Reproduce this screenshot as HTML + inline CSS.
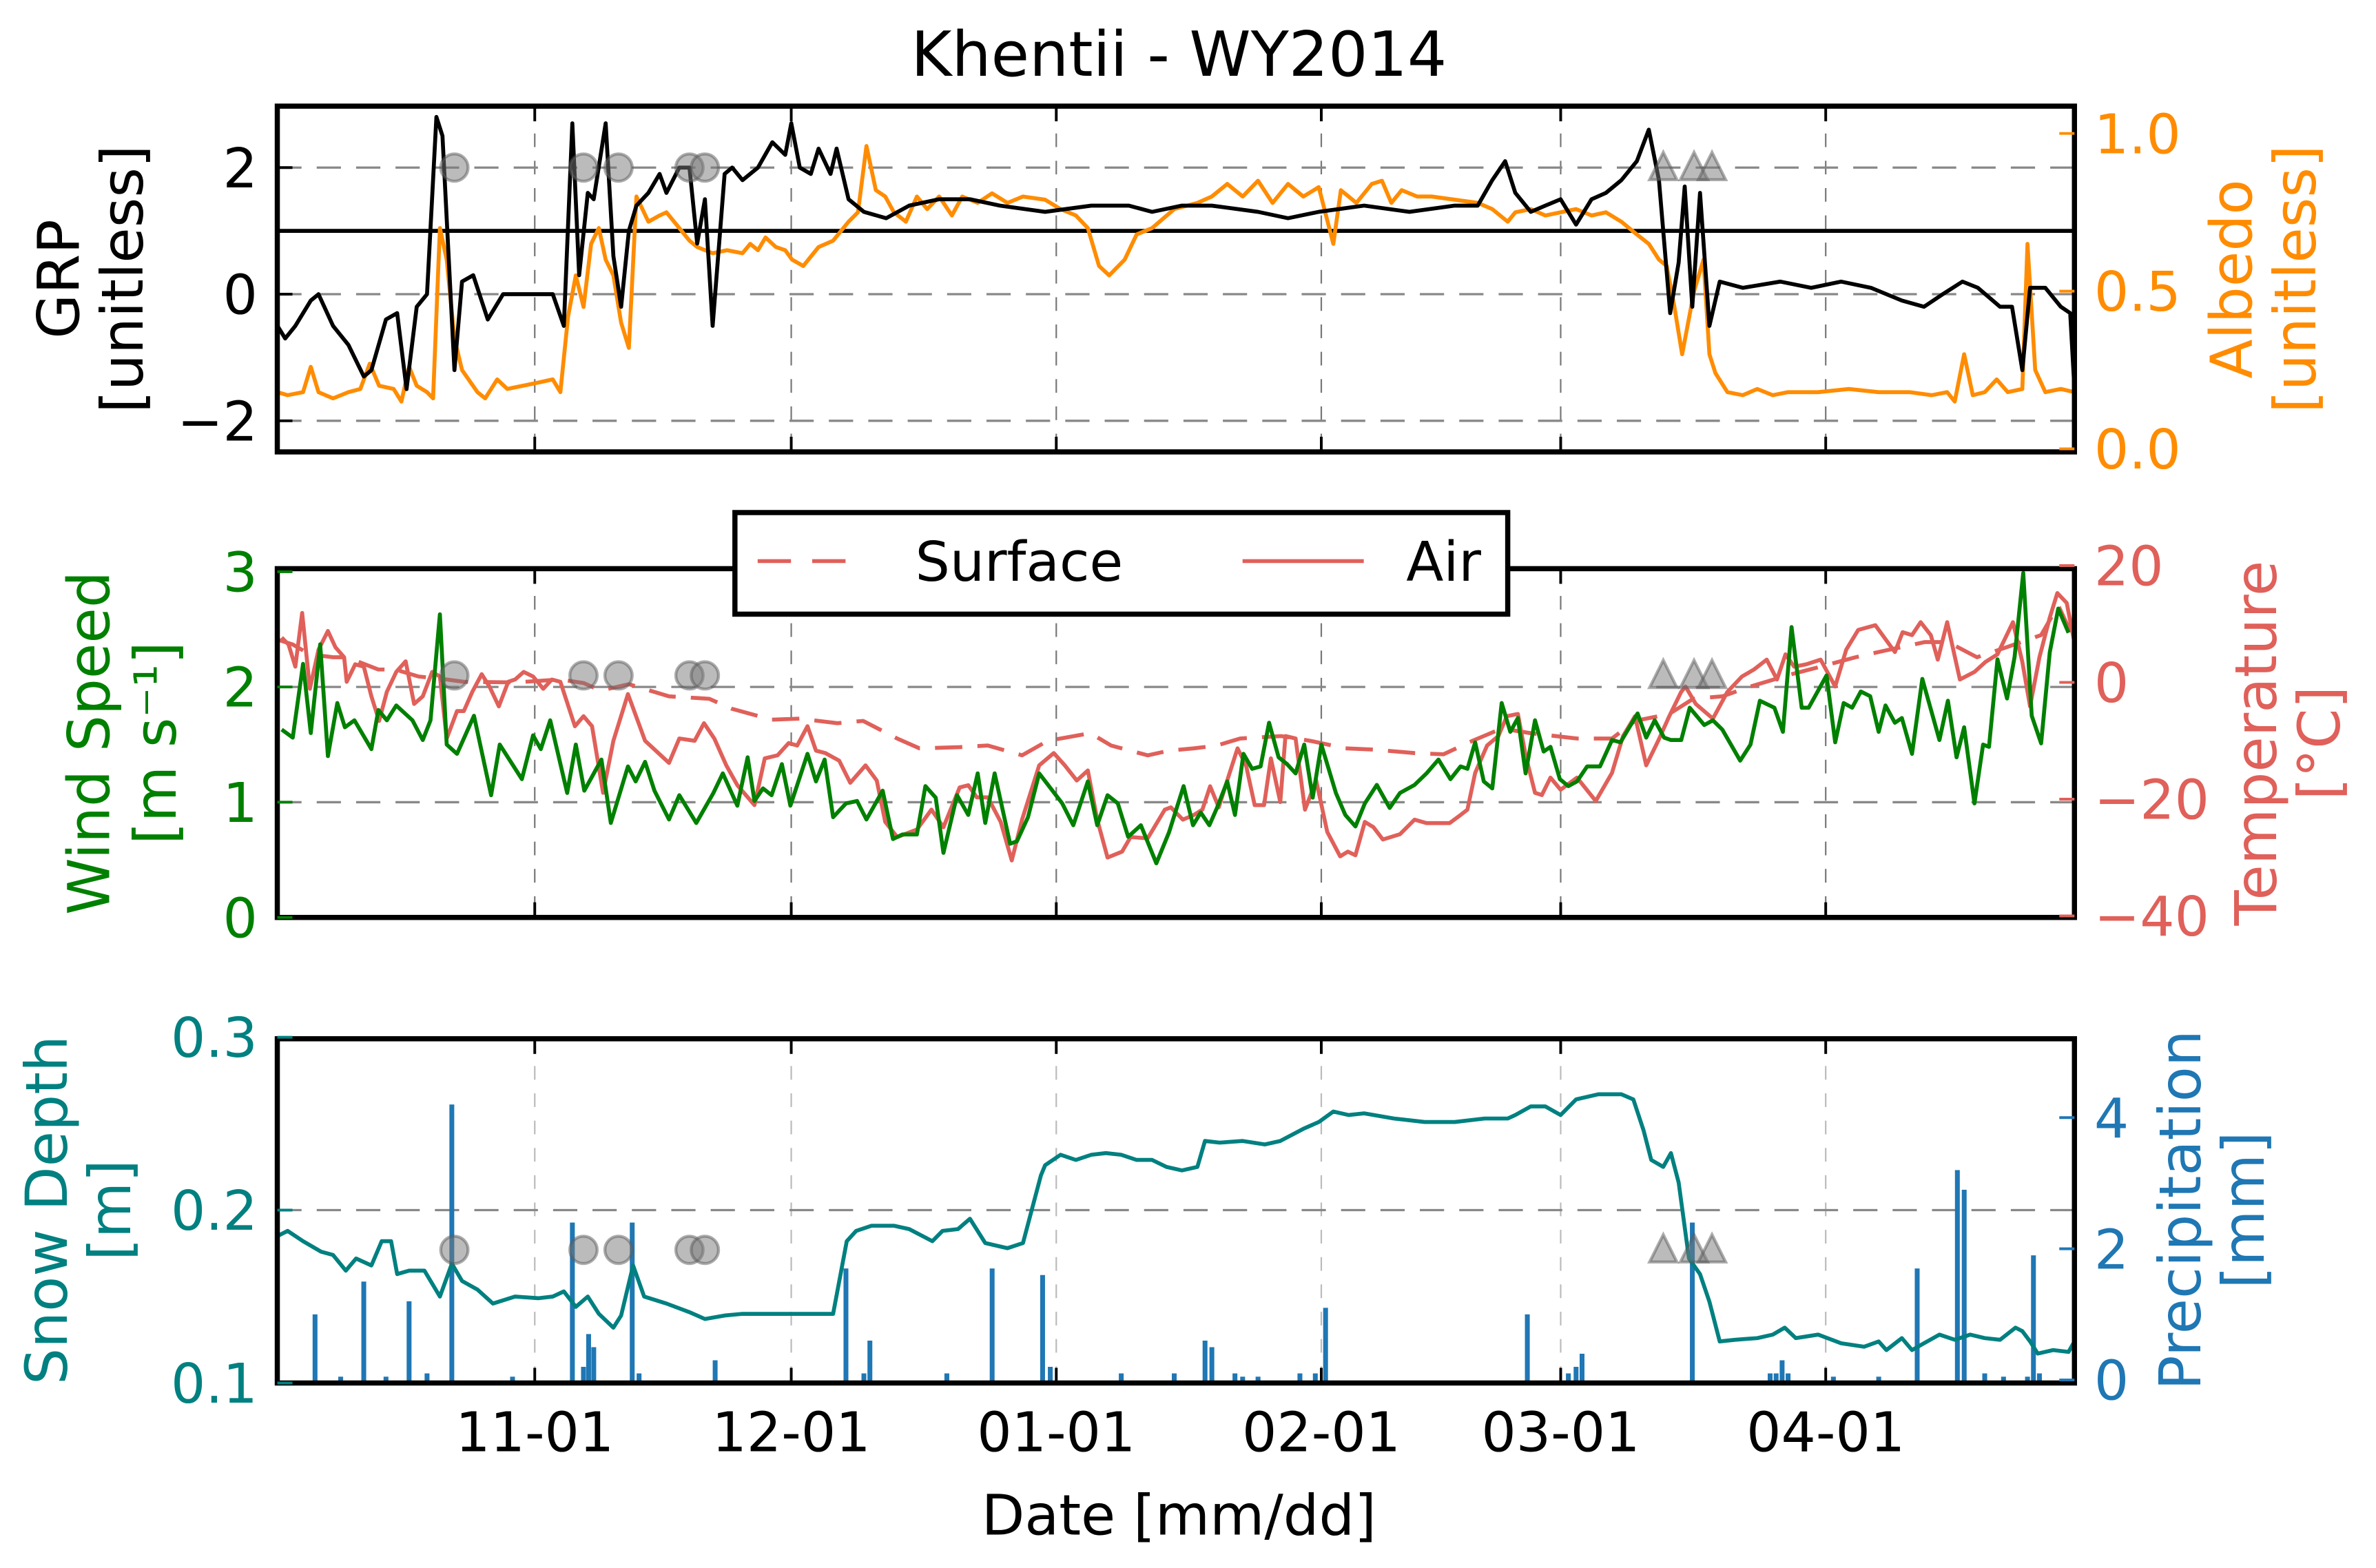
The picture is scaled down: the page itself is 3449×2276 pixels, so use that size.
<!DOCTYPE html>
<html><head><meta charset="utf-8"><title>Khentii - WY2014</title>
<style>
html,body{margin:0;padding:0;background:#fff;}
svg{display:block;}
text{font-family:"DejaVu Sans","Liberation Sans",sans-serif;}
</style></head>
<body>
<svg id="chart" xmlns="http://www.w3.org/2000/svg" width="3449" height="2276" viewBox="0 0 1568 1034" preserveAspectRatio="none">
<defs>
<clipPath id="c1"><rect x="183" y="70" width="1186" height="228"/></clipPath>
<clipPath id="c2"><rect x="183" y="375" width="1186" height="230"/></clipPath>
<clipPath id="c3"><rect x="183" y="685" width="1186" height="227"/></clipPath>
</defs>
<text x="778" y="50" font-size="41" text-anchor="middle">Khentii - WY2014</text>
<g id="g1"></g>
<g id="g2"></g>
<g id="g3"></g>
<text x="778" y="1012" font-size="37" text-anchor="middle">Date [mm/dd]</text>
</svg>
<script>
// ---------- data (days since Oct 1, 2013) ----------
const monthTickDays = [31, 61, 92, 123, 151, 182];
const monthTickLabels = ["11-01", "12-01", "01-01", "02-01", "03-01", "04-01"];
const grpTicks = [-2, 0, 2];
const albedoTicks = [0.0, 0.5, 1.0];
const windTicks = [0, 1, 2, 3];
const tempTicks = [-40, -20, 0, 20];
const snowTicks = [0.1, 0.2, 0.3];
const precipTicks = [0, 2, 4];

const grpDays = [0.9,1.8,3.0,4.8,5.7,7.4,9.2,11.0,11.9,13.6,14.9,16.0,17.2,18.4,19.5,20.2,21.6,22.5,23.8,25.5,27.3,30.5,33.1,34.4,35.4,36.2,37.2,37.9,39.3,40.2,41.1,42.0,42.9,44.3,45.6,46.4,47.9,49.1,50.0,50.9,51.8,53.2,54.1,55.3,57.1,58.8,60.3,61.0,62.0,63.3,64.2,65.6,66.3,67.7,69.5,72.1,74.8,78.3,81.9,85.4,90.7,96.1,100.5,103.2,106.7,110.2,115.6,119.1,122.7,128.0,133.3,138.6,141.3,143.0,144.5,145.7,147.5,149.2,151.0,152.8,154.6,156.3,158.1,159.9,161.3,162.5,163.8,164.8,165.5,166.4,167.3,168.4,169.6,172.3,176.7,180.3,183.8,187.3,190.9,193.5,195.7,198.0,199.8,202.4,203.8,205.0,205.9,207.7,209.5,210.6,211.1];
const grpValues = [-0.5,-0.7,-0.5,-0.1,0,-0.5,-0.8,-1.3,-1.2,-0.4,-0.3,-1.5,-0.2,0,2.8,2.5,-1.2,0.2,0.3,-0.4,0,0,0,-0.5,2.7,0.3,1.6,1.5,2.7,0.6,-0.2,1.0,1.4,1.6,1.9,1.6,2.0,2.0,0.8,1.5,-0.5,1.9,2.0,1.8,2.0,2.4,2.2,2.7,2.0,1.9,2.3,1.9,2.3,1.5,1.3,1.2,1.4,1.5,1.5,1.4,1.3,1.4,1.4,1.3,1.4,1.4,1.3,1.2,1.3,1.4,1.3,1.4,1.4,1.8,2.1,1.6,1.3,1.4,1.5,1.1,1.5,1.6,1.8,2.1,2.6,1.8,-0.3,0.5,1.7,-0.2,1.6,-0.5,0.2,0.1,0.2,0.1,0.2,0.1,-0.1,-0.2,0.0,0.2,0.1,-0.2,-0.2,-1.2,0.1,0.1,-0.2,-0.3,-1.5];

const albedoDays = [0.9,2.1,3.9,4.8,5.7,7.4,9.2,10.6,11.7,12.8,14.5,15.4,16.3,17.2,18.4,19.1,19.9,20.7,21.6,22.5,24.3,25.2,26.6,27.8,29.6,31.4,33.1,34,34.9,35.8,36.7,37.6,38.5,39.3,40.2,41.1,42,42.9,44.3,45.6,46.4,47.9,49.1,50,51.8,53.5,55.3,56.2,57.1,58,59.2,60.3,61.1,62.4,64.2,65.9,67.7,68.8,69.8,70.9,72,73,74.4,75.7,76.9,78.3,79.8,81,82.8,84.5,86.3,88.1,90.7,92.5,94.3,95.7,97,98.2,100,101.4,103.2,105.8,108.5,110.2,112,113.8,115.6,117.3,119.1,120.9,122.7,124.4,125.3,127.1,128.9,130.1,131.2,132.4,134.2,135.9,138.6,141.3,143,144.8,145.7,147.5,149.2,151,152.8,154.6,156.3,158.1,159.9,161.3,162.5,163.4,164.3,165.2,166.6,167.7,168.4,169.1,170.5,172.3,174,175.8,177.6,181.1,184.7,188.2,191.8,194.4,196.2,197.1,198.2,199.2,200.6,202,203.3,205,205.6,206.5,207.7,209.5,211.1];
const albedoValues = [0.18,0.17,0.18,0.26,0.18,0.16,0.18,0.19,0.27,0.20,0.19,0.15,0.26,0.20,0.18,0.16,0.70,0.60,0.35,0.25,0.18,0.16,0.22,0.19,0.20,0.21,0.22,0.18,0.42,0.55,0.45,0.65,0.70,0.60,0.55,0.40,0.32,0.80,0.72,0.74,0.75,0.70,0.66,0.64,0.62,0.63,0.62,0.65,0.63,0.67,0.64,0.63,0.60,0.58,0.64,0.66,0.72,0.75,0.96,0.82,0.80,0.75,0.72,0.80,0.76,0.80,0.74,0.80,0.78,0.81,0.78,0.80,0.79,0.76,0.74,0.70,0.58,0.55,0.60,0.68,0.70,0.76,0.78,0.80,0.84,0.80,0.85,0.78,0.84,0.80,0.83,0.65,0.82,0.78,0.84,0.85,0.78,0.82,0.80,0.80,0.79,0.78,0.76,0.72,0.75,0.76,0.74,0.75,0.76,0.74,0.75,0.72,0.68,0.65,0.60,0.58,0.45,0.30,0.50,0.60,0.30,0.24,0.18,0.17,0.19,0.17,0.18,0.18,0.19,0.18,0.18,0.17,0.18,0.15,0.30,0.17,0.18,0.22,0.18,0.19,0.65,0.25,0.18,0.19,0.18];

const windDays = [1.4,2.7,3.9,4.8,5.9,6.8,7.9,8.8,9.9,11.9,12.7,13.7,14.8,16.7,17.9,18.8,19.9,20.7,21.9,23.9,25.9,26.9,29.5,30.8,31.7,32.8,34.8,35.8,36.8,38.8,39.9,41.9,42.8,43.9,45,46.7,47.9,49.9,51.9,53,54.7,55.9,56.7,57.7,58.7,59.9,60.9,62.9,63.9,64.9,65.9,67.4,68.7,69.8,71.7,72.9,74,75.7,76.7,77.9,78.8,80.4,81.7,82.8,83.7,84.8,86.6,87.4,88.7,90,92.7,94,95.7,96.8,98,99.2,100.4,101.9,103.7,105.2,106.9,108,108.9,109.9,110.8,112,112.9,113.9,114.9,115.9,116.9,118,119,120,121,122,123,124.7,125.8,127,128.1,129.5,131,132.2,133.9,135.3,136.7,138.1,139.3,140.1,141,142,143,144.1,145.1,146,146.9,148,149,149.8,150.9,151.9,152.9,154.1,155.6,157,158,160,161,162,163.1,163.9,165.1,166.1,167.8,168.8,169.9,172,173.2,174.3,176,177,178,179.2,180,182.1,183.1,184.1,185.1,186.1,187.2,188.2,189,190.1,190.9,192.1,193.3,195.3,196.3,197.3,198.2,199.4,200.4,201.1,202.1,203.2,204.1,205.1,206.1,207.2,208.2,209.2,210.4];
const windValues = [1.63,1.56,2.2,1.6,2.37,1.4,1.86,1.65,1.71,1.46,1.8,1.71,1.84,1.71,1.54,1.71,2.63,1.5,1.42,1.75,1.06,1.5,1.2,1.58,1.46,1.71,1.08,1.5,1.1,1.37,0.82,1.31,1.18,1.35,1.1,0.85,1.06,0.82,1.08,1.25,0.97,1.39,1.01,1.12,1.06,1.33,0.97,1.42,1.18,1.37,0.87,0.99,1.01,0.85,1.1,0.68,0.72,0.72,1.14,1.04,0.56,1.06,0.89,1.25,0.82,1.25,0.64,0.66,0.87,1.25,0.99,0.8,1.18,0.8,1.06,0.99,0.7,0.8,0.47,0.74,1.14,0.8,0.91,0.8,0.95,1.18,0.89,1.42,1.29,1.31,1.69,1.39,1.33,1.25,1.5,1.04,1.5,1.08,0.89,0.79,0.99,1.15,0.95,1.08,1.15,1.25,1.37,1.2,1.31,1.29,1.52,1.18,1.12,1.86,1.61,1.73,1.25,1.71,1.44,1.48,1.2,1.14,1.18,1.31,1.31,1.54,1.52,1.77,1.56,1.71,1.56,1.54,1.54,1.82,1.67,1.71,1.63,1.36,1.5,1.88,1.82,1.61,2.52,1.82,1.82,2.1,1.52,1.86,1.82,1.96,1.92,1.61,1.84,1.69,1.73,1.42,2.07,1.54,1.88,1.39,1.65,0.99,1.5,1.48,2.24,1.9,2.26,2.99,1.75,1.51,2.3,2.68,2.47];

const airDays = [1.4,2.2,3.0,3.8,4.7,5.7,6.8,7.7,8.7,9,10,11,11.9,12.8,13.7,14.8,15.9,16.9,17.9,19,19.9,20.7,21.9,22.7,23.7,24.8,25.7,26.8,27.9,28.7,29.7,30.8,32,33,34,35.7,36.7,37.7,39,40.2,41.9,43.9,46.7,47.9,49.7,50.8,52,53.4,54.7,56.7,57.9,59.4,60.7,61.7,62.9,63.9,65,66.6,67.9,69.7,71,72,73.4,75.7,77.4,78.8,80.7,81.7,82.7,84,85.5,86.8,88,90,91.7,93,94.4,95.7,96.8,98,99.7,100.7,102.7,104.7,105.4,106.8,108.1,109.1,110,111,112.2,113.2,114.2,115.2,116.3,117.1,118.2,118.8,120,121.1,122.4,123.7,125.2,126.1,127,128.1,129.1,130.2,132.2,133.9,135.3,138,139.3,140.1,141,142.4,143.7,144.7,146,146.9,148,148.8,149.8,151,152.9,155.1,157,158.3,159.7,161,162.4,163.7,165.1,165.6,166.8,168.8,170.5,172.2,173.6,175.1,176.3,177.3,178.3,179.7,181.4,183.1,184.4,185.8,187.8,190.1,191,192.1,193.1,194.3,195.1,196.2,197.7,199.4,200.7,202.1,203.9,205,205.9,207,208.2,209.1,210.2,211.2];
const airValues = [7.7,6.5,2.7,11.9,-1.1,5.6,8.8,6,4.3,0.1,3.1,2.7,-2.4,-6.6,-1.6,1.8,3.6,-3.7,-2.4,1.8,1,-9.6,-4.9,-4.9,-1.6,1.4,-0.7,-4.1,0.1,0.5,1.8,1,-1.1,0.5,0.1,-7.5,-5.8,-7.5,-18.9,-10,-2,-10,-13.8,-9.6,-10,-7,-9.6,-14.2,-17.6,-21,-13,-12.5,-10.4,-10.8,-7.5,-11.7,-12.1,-13.4,-17.2,-14.2,-16.8,-23.9,-26.5,-25.2,-21.8,-24.8,-18,-17.6,-19.7,-19.7,-23.9,-30.5,-23.5,-14.2,-12.1,-14.2,-16.8,-15.1,-23.5,-30,-29,-26.5,-26.7,-21.8,-21.4,-23.5,-22.7,-21.8,-17.8,-21.4,-15.9,-11.3,-14.2,-21,-21,-13,-20.5,-9.2,-9.6,-21.8,-16.8,-25.6,-29.8,-29,-29.6,-23.9,-24.8,-26.9,-26,-23.5,-24.1,-24.1,-22.7,-21.8,-15.5,-10.8,-9.2,-5.8,-5.4,-12.5,-18.9,-19.3,-16.3,-18.4,-16.3,-20.3,-15.5,-9.2,-5.8,-14.2,-10,-5.8,-1.6,-0.7,-3.7,-6.2,-1.6,1,2.2,3.9,0.5,4.8,2.7,3.1,3.9,-0.7,5.6,9,9.8,5.2,8.6,8.1,10.3,8.1,3.9,10.3,0.5,1.8,3.5,4.8,10.3,3.5,-4.1,4.3,11.1,15.3,13.6,6];

const surfaceDays = [1,2.7,4.7,7.4,9,12.7,14.7,17.4,20.7,22.7,28.7,34,36.7,38.7,42,46.7,51.4,54,58.7,62,66.4,69.4,73.4,76,80.7,84,88,91,96,98.4,102.7,105.2,108.1,110.8,113.5,118.3,121.7,125.8,129.1,133.9,137.3,140.7,144.1,147.5,152.9,157,159.7,163.7,166.5,169.9,173.2,178,181.4,185.5,188.8,193.6,196.3,199.7,203.1,207.2,209.2,211.2];
const surfaceValues = [7.3,6.5,4.8,4.3,4.3,2.2,2.2,1,0.5,0.1,0,0.5,-0.1,-1.4,-0.3,-2.4,-2.8,-4.5,-6.4,-6.2,-7,-6.6,-9.6,-11.3,-11.1,-10.8,-12.5,-10,-8.7,-10.8,-12.5,-11.7,-11.3,-10.8,-9.6,-9.2,-10,-11.3,-11.5,-12.1,-12.3,-10,-7.9,-8.7,-9.6,-9.6,-6.6,-5.4,-2.8,-2.4,-0.7,1.4,2.7,4.3,5.4,6.9,6.9,4.3,6,8.1,13.2,6.9];

const snowDays = [0.9,2.1,3.9,6,7.4,8.9,10.1,11.9,13.1,14.2,14.9,16.3,18.1,19.9,21.3,22.5,24.3,26.1,28.7,31.4,33.1,34.4,35.8,37.2,38.5,40.2,41.1,42.5,43.8,46.4,49.1,50.9,53.2,55.3,58,60.6,62.4,65.9,67.5,68.6,70.4,73,74.8,77.5,78.7,80.5,81.9,83.7,86.3,88.1,90.2,90.7,92.5,94.3,96.1,97.8,99.6,101.4,103.2,104.9,106.7,108.5,109.4,111.1,113.8,116.4,118.2,120.9,122.7,124.4,126.2,128,131.5,135.1,138.6,142.1,144.8,145.7,147.5,149.2,151,152.8,155.4,158.1,159.5,160.7,161.6,163,163.9,164.8,166,167.3,168.4,169.6,171.4,174,175.8,177.2,178.5,181.1,183.8,186.5,188.2,189.1,190.9,192.1,193.5,195.3,197.1,198.9,200.6,202.4,204.2,205,205.9,206.8,208.6,210.4,211.1];
const snowValues = [0.185,0.188,0.182,0.176,0.174,0.165,0.172,0.168,0.182,0.182,0.163,0.165,0.165,0.150,0.169,0.159,0.154,0.146,0.150,0.149,0.150,0.153,0.144,0.150,0.140,0.132,0.139,0.168,0.150,0.146,0.141,0.137,0.139,0.140,0.140,0.140,0.140,0.140,0.182,0.188,0.191,0.191,0.189,0.182,0.188,0.189,0.195,0.181,0.178,0.181,0.220,0.226,0.232,0.229,0.232,0.233,0.232,0.229,0.229,0.225,0.223,0.225,0.240,0.239,0.240,0.238,0.240,0.247,0.251,0.257,0.255,0.256,0.253,0.251,0.251,0.253,0.253,0.255,0.260,0.260,0.255,0.264,0.267,0.267,0.264,0.246,0.229,0.225,0.233,0.216,0.172,0.163,0.147,0.124,0.125,0.126,0.128,0.132,0.126,0.128,0.123,0.121,0.124,0.119,0.126,0.119,0.123,0.128,0.125,0.128,0.126,0.125,0.132,0.130,0.124,0.117,0.119,0.118,0.124];

const precipDays = [5.3,8.3,11,13.6,16.3,18.4,21.3,28.4,35.4,36.7,37.3,37.9,42.4,43.2,52.1,67.4,69.5,70.2,79.2,84.5,90.4,91.3,99.6,105.8,109.4,110.2,112.9,113.8,115.6,120.5,122.3,123.5,147.1,151.9,152.8,153.5,166.4,175.5,176.2,176.9,177.6,182.9,188.2,192.7,197.4,198.2,200.6,202.8,205.6,206.3,207];
const precipValues = [1.0,0.05,1.5,0.05,1.2,0.1,4.2,0.05,2.4,0.2,0.7,0.5,2.4,0.1,0.3,1.7,0.1,0.6,0.1,1.7,1.6,0.2,0.1,0.1,0.6,0.5,0.1,0.05,0.05,0.1,0.1,1.1,1.0,0.1,0.2,0.4,2.4,0.1,0.1,0.3,0.1,0.05,0.05,1.7,3.2,2.9,0.1,0.05,0.05,1.9,0.1];

const circleDays = [21.6, 36.7, 40.8, 49.1, 50.9];
const triangleDays = [163.0, 166.6, 168.7];

// ---------- scales ----------
const NS = "http://www.w3.org/2000/svg";
const X = d => 178 + 5.642 * d;
const grpY = v => 194 - 41.75 * v;
const albY = v => 296 - 208 * v;
const windY = v => 605 - 76 * v;
const tempY = v => 450 - 3.85 * v;
const snowY = v => 912 - 1140 * (v - 0.1);
const precY = v => 910 - 43.25 * v;

function mk(tag, attrs, parent) {
  const e = document.createElementNS(NS, tag);
  for (const k in attrs) e.setAttribute(k, attrs[k]);
  parent.appendChild(e);
  return e;
}
function pathFrom(days, vals, yf) {
  return days.map((d, i) => (i ? "L" : "M") + X(d).toFixed(1) + " " + yf(vals[i]).toFixed(1)).join(" ");
}

const panels = [
  {g: document.getElementById("g1"), top: 70, bot: 298, clip: "c1", vDash: "#777"},
  {g: document.getElementById("g2"), top: 375, bot: 605, clip: "c2", vDash: "#777"},
  {g: document.getElementById("g3"), top: 685, bot: 912, clip: "c3", vDash: "#bbb"}
];
const L = 183, R = 1369;

function grid(p, hVals, yf) {
  const g = mk("g", {}, p.g);
  
  
  monthTickDays.forEach(d => {
    const ln = mk("line", {x1: X(d), x2: X(d), y1: p.top, y2: p.bot, stroke: p.vDash, "stroke-width": 1, "stroke-dasharray": "9,9"}, g);
    
    
    mk("line", {x1: X(d), x2: X(d), y1: p.top, y2: p.top + 10, stroke: "#000", "stroke-width": 1.8}, g);
    mk("line", {x1: X(d), x2: X(d), y1: p.bot - 10, y2: p.bot, stroke: "#000", "stroke-width": 1.8}, g);
  });
  hVals.forEach(v => {
    const ln = mk("line", {x1: L, x2: R, y1: yf(v), y2: yf(v), stroke: "#888", "stroke-width": 1.5, "stroke-dasharray": "16,10"}, g);
    
    
  });
}
function frame(p) {
  const r = mk("rect", {x: L, y: p.top, width: R - L, height: p.bot - p.top, fill: "none", stroke: "#000", "stroke-width": 3.4}, p.g);
  
  
}
function yTicks(p, vals, yf, side, color, fmt) {
  const g = mk("g", {}, p.g);
  
  
  vals.forEach(v => {
    const y = yf(v);
    if (side === "left") {
      mk("line", {x1: L, x2: L + 10, y1: y, y2: y, stroke: color, "stroke-width": 1.8}, g);
      const t = mk("text", {x: 170, y: y + 13, "font-size": 36, "text-anchor": "end", fill: color}, g);
      t.textContent = fmt(v);
      
      
    } else {
      mk("line", {x1: R - 10, x2: R, y1: y, y2: y, stroke: color, "stroke-width": 1.8}, g);
      const t = mk("text", {x: 1382, y: y + 13, "font-size": 36, "text-anchor": "start", fill: color}, g);
      t.textContent = fmt(v);
      
      
    }
  });
}
function line(p, days, vals, yf, color, name, dash) {
  const a = {d: pathFrom(days, vals, yf), fill: "none", stroke: color, "stroke-width": 2.6, "stroke-linejoin": "round", "clip-path": "url(#" + p.clip + ")"};
  if (dash) a["stroke-dasharray"] = dash;
  const e = mk("path", a, p.g);
  
  
}
function markers(p, y) {
  circleDays.forEach(d => {
    const c = mk("circle", {cx: X(d), cy: y, r: 9, fill: "rgba(120,120,120,0.5)", stroke: "rgba(90,90,90,0.5)", "stroke-width": 2}, p.g);
    
    
  });
  triangleDays.forEach(d => {
    const x = X(d);
    const t = mk("polygon", {points: (x - 9) + "," + (y + 8) + " " + (x + 9) + "," + (y + 8) + " " + x + "," + (y - 10), fill: "rgba(120,120,120,0.5)", stroke: "rgba(90,90,90,0.5)", "stroke-width": 2}, p.g);
    
    
  });
}
function label(parent, x, y, txt, color, name, size) {
  const t = mk("text", {x: x, y: y, "font-size": size || 38, "text-anchor": "middle", fill: color, transform: "rotate(-90 " + x + " " + y + ")"}, parent);
  t.textContent = txt;
  
  
}

// Panel 1
const p1 = panels[0];
grid(p1, grpTicks, grpY);
const ref = mk("line", {x1: L, x2: R, y1: grpY(1), y2: grpY(1), stroke: "#000", "stroke-width": 2.6}, p1.g);


line(p1, albedoDays, albedoValues, albY, "#ff8c00", "albedo-line");
line(p1, grpDays, grpValues, grpY, "#000", "grp-line");
markers(p1, grpY(2));
frame(p1);
yTicks(p1, grpTicks, grpY, "left", "#000", v => v < 0 ? "\u2212" + (-v) : String(v));
yTicks(p1, albedoTicks, albY, "right", "#ff8c00", v => v.toFixed(1));
label(p1.g, 52, 184, "GRP", "#000", "grp-axis-title");
label(p1.g, 94, 184, "[unitless]", "#000", "grp-axis-unit");
label(p1.g, 1486, 184, "Albedo", "#ff8c00", "albedo-axis-title");
label(p1.g, 1528, 184, "[unitless]", "#ff8c00", "albedo-axis-unit");

// Panel 2
const p2 = panels[1];
grid(p2, [1, 2], windY);
line(p2, surfaceDays, surfaceValues, tempY, "#e0605a", "surface-temperature-line", "18,10");
line(p2, airDays, airValues, tempY, "#e0605a", "air-temperature-line");
line(p2, windDays, windValues, windY, "#008000", "wind-speed-line");
markers(p2, windY(2.1));
frame(p2);
yTicks(p2, windTicks, windY, "left", "#008000", v => String(v));
yTicks(p2, tempTicks, tempY, "right", "#e0605a", v => v < 0 ? "\u2212" + (-v) : String(v));
label(p2.g, 72, 490, "Wind Speed", "#008000", "wind-axis-title");
label(p2.g, 116, 490, "[m s\u207B\u00B9]", "#008000", "wind-axis-unit");
label(p2.g, 1502, 490, "Temperature", "#e0605a", "temperature-axis-title");
label(p2.g, 1544, 490, "[\u00B0C]", "#e0605a", "temperature-axis-unit");

// legend
const lg = mk("g", {}, p2.g);


mk("rect", {x: 485, y: 338, width: 510, height: 67, fill: "#fff", stroke: "#000", "stroke-width": 3.4}, lg);
const ls1 = mk("line", {x1: 500, x2: 572, y1: 370, y2: 370, stroke: "#e0605a", "stroke-width": 2.6, "stroke-dasharray": "22,14"}, lg);


const lt1 = mk("text", {x: 604, y: 383, "font-size": 36}, lg);
lt1.textContent = "Surface";


const ls2 = mk("line", {x1: 820, x2: 900, y1: 370, y2: 370, stroke: "#e0605a", "stroke-width": 2.6}, lg);


const lt2 = mk("text", {x: 928, y: 383, "font-size": 36}, lg);
lt2.textContent = "Air";



// Panel 3
const p3 = panels[2];
grid(p3, [0.2], snowY);
const bars = mk("g", {"clip-path": "url(#c3)"}, p3.g);


precipDays.forEach((d, i) => {
  const y = precY(precipValues[i]);
  const b = mk("rect", {x: X(d) - 1.6, y: y, width: 3.2, height: 912 - y, fill: "#1f77b4"}, bars);
  
  
});
line(p3, snowDays, snowValues, snowY, "#008080", "snow-depth-line");
markers(p3, snowY(0.177));
frame(p3);
yTicks(p3, snowTicks, snowY, "left", "#008080", v => v.toFixed(1));
yTicks(p3, precipTicks, precY, "right", "#1f77b4", v => String(v));
label(p3.g, 44, 798, "Snow Depth", "#008080", "snow-axis-title");
label(p3.g, 86, 798, "[m]", "#008080", "snow-axis-unit");
label(p3.g, 1452, 798, "Precipitation", "#1f77b4", "precip-axis-title");
label(p3.g, 1494, 798, "[mm]", "#1f77b4", "precip-axis-unit");

// x tick labels
const xg = mk("g", {}, p3.g);


monthTickDays.forEach((d, i) => {
  const t = mk("text", {x: X(d), y: 957, "font-size": 36, "text-anchor": "middle"}, xg);
  t.textContent = monthTickLabels[i];
  
  
});
</script>
</body></html>
